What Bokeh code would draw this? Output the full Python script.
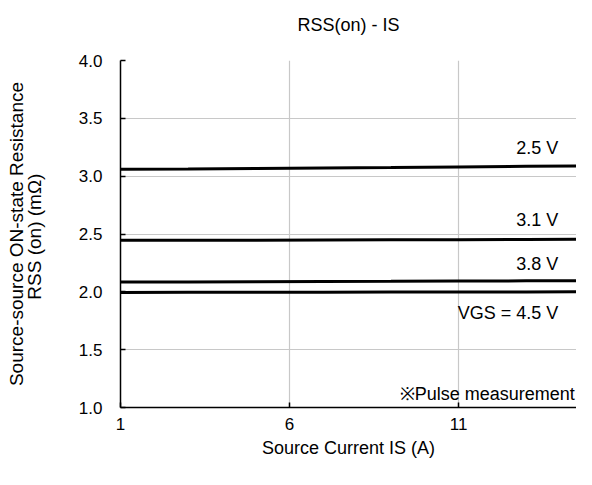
from bokeh.plotting import figure
from bokeh.models import FixedTicker, NumeralTickFormatter, Range1d
from bokeh.core.properties import value
from bokeh.embed import file_html
from bokeh.resources import INLINE

# Data
is_a = [1, 3, 5, 7, 9, 11, 13, 15]
r_25 = [3.06, 3.063, 3.067, 3.071, 3.075, 3.08, 3.085, 3.09]
r_31 = [2.445, 2.446, 2.447, 2.449, 2.450, 2.451, 2.453, 2.455]
r_38 = [2.085, 2.086, 2.088, 2.090, 2.091, 2.093, 2.095, 2.097]
r_45 = [1.995, 1.996, 1.996, 1.997, 1.998, 1.998, 1.999, 2.0]
series = [r_25, r_31, r_38, r_45]

lab_text = ["2.5 V", "3.1 V", "3.8 V", "VGS = 4.5 V"]
lab_x = [13.95, 13.95, 13.95, 13.95]
lab_y = [3.24, 2.62, 2.24, 1.815]
note_text = ["※Pulse measurement"]
note_x = [14.44]
note_y = [1.12]

x_ticks = [1, 6, 11]
y_ticks = [1.0, 1.5, 2.0, 2.5, 3.0, 3.5, 4.0]

title_text = "RSS(on) - IS"
x_title = "Source Current IS (A)"
y_title = "Source-source ON-state Resistance\nRSS (on)  (mΩ)"

FONT = "Liberation Sans"

p = figure(width=576, height=469, output_backend="svg", toolbar_location=None,
           x_range=Range1d(1, 14.49), y_range=Range1d(1, 4),
           min_border_left=120, min_border_right=0, min_border_top=60,
           min_border_bottom=62, title=title_text + "\n ")
p.outline_line_color = None
p.background_fill_color = "white"
p.border_fill_color = "white"

p.title.align = "center"
p.title.vertical_align = "bottom"
p.title.text_font = FONT
p.title.text_font_size = "18px"
p.title.text_font_style = "normal"
p.title.text_color = "#000000"
p.title.standoff = 12

for ax in (p.xaxis[0], p.yaxis[0]):
    ax.axis_line_color = "black"
    ax.axis_line_width = 1.5
    ax.major_tick_in = 5
    ax.major_tick_out = 0
    ax.major_tick_line_color = "black"
    ax.major_tick_line_width = 1.5
    ax.minor_tick_line_color = None
    ax.major_label_text_font = FONT
    ax.major_label_text_font_size = "17px"
    ax.major_label_text_color = "#000000"
    ax.axis_label_text_font = FONT
    ax.axis_label_text_font_size = "18px"
    ax.axis_label_text_font_style = "normal"
    ax.axis_label_text_color = "#000000"

p.xaxis.ticker = FixedTicker(ticks=x_ticks)
p.yaxis.ticker = FixedTicker(ticks=y_ticks)
p.yaxis.formatter = NumeralTickFormatter(format="0.0")
p.xaxis.major_label_standoff = 10
p.xaxis.axis_label = x_title
p.xaxis.axis_label_standoff = 5
p.yaxis.major_label_standoff = 18
p.yaxis.axis_label = y_title
p.yaxis.axis_label_text_font_size = "19px"
p.yaxis.axis_label_text_line_height = 0.85
p.yaxis.axis_label_standoff = 31

p.xgrid.grid_line_color = "#c8c8c8"
p.ygrid.grid_line_color = "#c8c8c8"
p.xgrid.grid_line_width = 1.2
p.ygrid.grid_line_width = 1.2

for s in series:
    p.line(is_a, s, line_color="black", line_width=3)

p.text(lab_x, lab_y, text=lab_text, text_align="right", text_baseline="middle",
       text_font=value(FONT), text_font_size="18px", text_color="black")
p.text(note_x, note_y, text=note_text, text_align="right", text_baseline="middle",
       text_font=value(FONT), text_font_size="18px", text_color="black")

open("out.html", "w").write(file_html(p, INLINE))
